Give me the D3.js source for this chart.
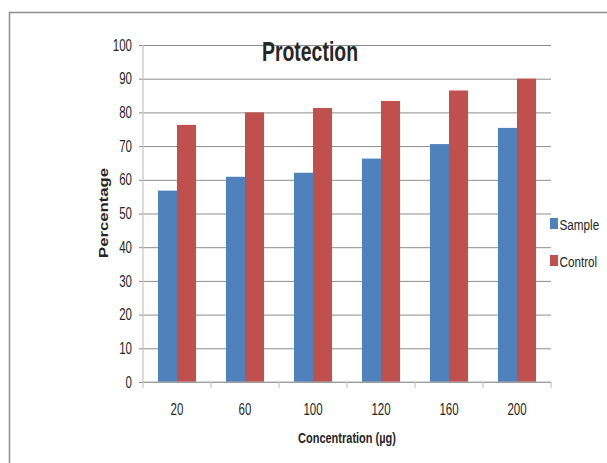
<!DOCTYPE html>
<html>
<head>
<meta charset="utf-8">
<script src="https://cdn.jsdelivr.net/npm/d3@7"></script>
<style>
  body { margin: 0; background: #fff; }
  svg { display: block; }
  text { font-family: "Liberation Sans Narrow", "Liberation Sans", Arial, sans-serif; fill: #262626; }
</style>
</head>
<body>
<div id="chart"></div>
<script>
const categories = ['20', '60', '100', '120', '160', '200'];
const sample = [56.8, 60.9, 62.1, 66.3, 70.6, 75.4];
const control = [76.3, 80.0, 81.3, 83.4, 86.5, 90.0];
const seriesNames = ['Sample', 'Control'];
const yTicks = [0, 10, 20, 30, 40, 50, 60, 70, 80, 90, 100];

const colors = ['#4f81bd', '#c0504d'];
const W = 607, H = 463;
const plot = { left: 143, right: 551, top: 45, bottom: 382 };
const digitW = 6.4; // condensed digit width of the reference font

const svg = d3.select('#chart').append('svg')
  .attr('width', W).attr('height', H);

// outer chart border (only top and left are visible)
svg.append('path')
  .attr('d', `M9.5,${H} V12.5 H${W}`)
  .attr('fill', 'none').attr('stroke', '#8c8c8c').attr('stroke-width', 1.5);

const x = d3.scaleBand().domain(categories)
  .range([plot.left, plot.right]).paddingInner(0.44).paddingOuter(0.22);
const xSub = d3.scaleBand().domain(seriesNames).range([0, x.bandwidth()]);
const y = d3.scaleLinear().domain([0, 100]).range([plot.bottom, plot.top]);

// gridlines + y ticks
const yAxis = svg.append('g')
  .attr('transform', `translate(${plot.left},0)`)
  .call(d3.axisLeft(y).tickValues(yTicks).tickSize(-(plot.right - plot.left)).tickPadding(11).tickSizeOuter(0));
yAxis.select('.domain').remove();
yAxis.selectAll('.tick line').attr('stroke', '#8c8c8c').attr('stroke-width', 1)
  .attr('x1', -4);
yAxis.selectAll('.tick text').attr('font-size', 16).attr('fill', '#3a3a3a')
  .attr('font-family', null)
  .attr('textLength', d => String(d).length * digitW)
  .attr('lengthAdjust', 'spacingAndGlyphs');

// y axis line
svg.append('line')
  .attr('x1', plot.left).attr('x2', plot.left)
  .attr('y1', plot.top).attr('y2', plot.bottom)
  .attr('stroke', '#c4c4c4').attr('stroke-width', 1.2);

// bars
const data = categories.map((c, i) => ({ cat: c, vals: [sample[i], control[i]] }));
const groups = svg.append('g').selectAll('g').data(data).join('g')
  .attr('transform', d => `translate(${x(d.cat)},0)`);
groups.selectAll('rect')
  .data(d => d.vals.map((v, j) => ({ name: seriesNames[j], v, j })))
  .join('rect')
  .attr('x', d => xSub(d.name))
  .attr('width', xSub.bandwidth())
  .attr('y', d => y(d.v))
  .attr('height', d => y(0) - y(d.v))
  .attr('fill', d => colors[d.j]);

// x axis
svg.append('line')
  .attr('x1', plot.left).attr('x2', plot.right)
  .attr('y1', plot.bottom).attr('y2', plot.bottom)
  .attr('stroke', '#b0b0b0').attr('stroke-width', 1.2);
const bounds = d3.range(categories.length + 1).map(i => plot.left + i * x.step());
svg.append('g').selectAll('line').data(bounds).join('line')
  .attr('x1', d => d).attr('x2', d => d)
  .attr('y1', plot.bottom).attr('y2', plot.bottom + 6)
  .attr('stroke', '#c4c4c4').attr('stroke-width', 1.2);
svg.append('g').selectAll('text').data(categories).join('text')
  .attr('x', d => x(d) + x.bandwidth() / 2).attr('y', 415)
  .attr('text-anchor', 'middle').attr('font-size', 16).attr('fill', '#3a3a3a')
  .attr('textLength', d => d.length * digitW).attr('lengthAdjust', 'spacingAndGlyphs')
  .text(d => d);

// title
svg.append('text')
  .attr('x', 310).attr('y', 61)
  .attr('text-anchor', 'middle')
  .attr('font-size', 28).attr('font-weight', 'bold').attr('fill', '#111')
  .attr('textLength', 96).attr('lengthAdjust', 'spacingAndGlyphs')
  .text('Protection');

// axis titles
svg.append('text')
  .attr('x', 347).attr('y', 443)
  .attr('text-anchor', 'middle').attr('font-size', 14.5).attr('font-weight', 'bold')
  .attr('fill', '#111')
  .attr('textLength', 98).attr('lengthAdjust', 'spacingAndGlyphs')
  .text('Concentration (µg)');
svg.append('text')
  .attr('transform', 'translate(107.5,213) rotate(-90)')
  .attr('text-anchor', 'middle').attr('font-size', 13.5).attr('font-weight', 'bold')
  .attr('font-family', '"DejaVu Sans", sans-serif').attr('fill', '#111')
  .attr('textLength', 90).attr('lengthAdjust', 'spacingAndGlyphs')
  .text('Percentage');

// legend (text squeezed horizontally so it fits the right edge like the original)
const legend = svg.append('g').selectAll('g').data(seriesNames).join('g')
  .attr('transform', (d, i) => `translate(550,${218 + i * 37})`);
legend.append('rect').attr('width', 8).attr('height', 11)
  .attr('fill', (d, i) => colors[i]);
legend.append('text')
  .attr('transform', 'translate(9.5,11.5) scale(0.78,1)')
  .attr('font-size', 15).attr('fill', '#262626')
  .text(d => d);
</script>
</body>
</html>
